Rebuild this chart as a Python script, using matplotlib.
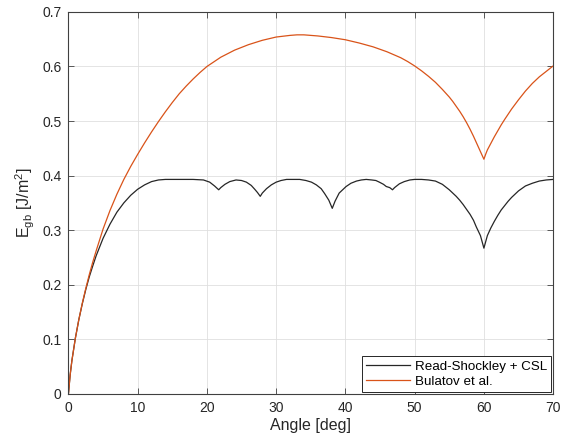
import matplotlib
matplotlib.use("Agg")
import matplotlib.pyplot as plt

plt.rcParams['font.family'] = ['Liberation Sans', 'DejaVu Sans']
plt.rcParams['mathtext.default'] = 'regular'

# Read-Shockley + CSL (black)
rs_angle = [0, 0.25, 0.5, 1, 1.5, 2, 2.5, 3, 3.5, 4, 5, 6, 7, 8, 9, 10, 11, 12, 13, 14, 16, 18, 19.5,
            20.4, 21.1, 21.7, 22.0, 22.6, 23.3, 24.2, 25.0, 25.7, 26.4, 26.9, 27.3, 27.7,
            28.0, 28.6, 29.3, 30.0, 30.7, 31.5, 32.5, 33.4, 34.3, 35.1, 35.8, 36.5, 37.0,
            37.6, 38.1, 38.5, 39.1, 40.1, 40.8, 41.6, 42.3, 43.0, 43.8, 44.4, 44.9, 45.5,
            45.9, 46.4, 46.8, 47.1, 47.8, 48.5, 49.3, 50, 51, 52, 53, 53.5, 54, 54.5, 55,
            55.5, 56, 56.5, 57, 57.5, 58, 58.5, 58.9, 59.5, 60, 60.5, 61, 61.5, 62, 62.5,
            63, 63.5, 64, 65, 66, 67, 68, 69, 70]
rs_energy = [0, 0.035, 0.061, 0.102, 0.136, 0.165, 0.191, 0.214, 0.234, 0.253, 0.285, 0.311,
             0.333, 0.350, 0.364, 0.375, 0.383, 0.389, 0.392, 0.393, 0.393, 0.393, 0.392,
             0.388, 0.381, 0.374, 0.378, 0.384, 0.389, 0.392, 0.391, 0.388, 0.382, 0.375,
             0.369, 0.362, 0.368, 0.376, 0.383, 0.388, 0.391, 0.393, 0.393, 0.393, 0.391,
             0.388, 0.383, 0.376, 0.367, 0.355, 0.340, 0.353, 0.368, 0.380, 0.386, 0.390,
             0.392, 0.393, 0.392, 0.391, 0.388, 0.384, 0.380, 0.378, 0.374, 0.378, 0.385,
             0.389, 0.392, 0.393, 0.393, 0.392, 0.390, 0.387, 0.384, 0.379, 0.374,
             0.368, 0.362, 0.355, 0.347, 0.338, 0.329, 0.318, 0.306, 0.290, 0.267, 0.290,
             0.304, 0.316, 0.327, 0.337, 0.345, 0.353, 0.360, 0.372, 0.381, 0.386,
             0.390, 0.392, 0.393]

# Bulatov et al. (orange)
bu_angle = [0, 0.25, 0.5, 1, 1.5, 2, 2.5, 3, 3.5, 4, 5, 6, 7, 8, 9, 10, 11, 12, 13, 14, 15,
            16, 17, 18, 19, 20, 22, 24, 26, 28, 30, 32, 33, 34, 36, 38, 40, 42, 44, 46, 48,
            49, 50, 51, 52, 53, 54, 55, 55.5, 56, 56.5, 57, 57.5, 58, 58.5, 59, 59.5, 60,
            60.25, 60.5, 61, 61.5, 62, 62.5, 63, 64, 65, 66, 67, 68, 69, 70]
bu_energy = [0, 0.035, 0.061, 0.102, 0.136, 0.166, 0.193, 0.218, 0.241, 0.262, 0.302, 0.336,
             0.366, 0.393, 0.417, 0.439, 0.460, 0.480, 0.499, 0.517, 0.534,
             0.550, 0.564, 0.577, 0.589, 0.600, 0.617, 0.630, 0.640, 0.648, 0.654, 0.657,
             0.658, 0.658, 0.656, 0.653, 0.649, 0.643, 0.636, 0.627, 0.616,
             0.609, 0.601, 0.592, 0.582, 0.571, 0.558, 0.544, 0.536, 0.527, 0.518, 0.508,
             0.497, 0.485, 0.472, 0.458, 0.444, 0.430,
             0.439, 0.447, 0.459, 0.471, 0.482, 0.493, 0.503, 0.522, 0.539, 0.555, 0.569,
             0.581, 0.591, 0.601]

x_ticks = [0, 10, 20, 30, 40, 50, 60, 70]
y_ticks = [0, 0.1, 0.2, 0.3, 0.4, 0.5, 0.6, 0.7]
y_tick_labels = ['0', '0.1', '0.2', '0.3', '0.4', '0.5', '0.6', '0.7']

fig = plt.figure(figsize=(5.61, 4.42), dpi=100)
ax = fig.add_axes([0.122, 0.109, 0.864, 0.864])

ax.plot(rs_angle, rs_energy, color='#262626', lw=0.9, label='Read-Shockley + CSL')
ax.plot(bu_angle, bu_energy, color='#D95319', lw=0.9, label='Bulatov et al.')

ax.set_xlim(0, 70)
ax.set_ylim(0, 0.7)
ax.set_xticks(x_ticks)
ax.set_yticks(y_ticks)
ax.set_yticklabels(y_tick_labels)
ax.grid(True, color='#dfdfdf', lw=0.6)
ax.set_axisbelow(True)
for s in ax.spines.values():
    s.set_color('#404040')
    s.set_linewidth(0.8)
ax.tick_params(direction='in', length=4, width=0.6, colors='#404040',
               labelcolor='#262626', labelsize=10, top=True, right=True, pad=5)
ax.set_xlabel('Angle [deg]', fontsize=11.5, color='#262626', labelpad=2)
ax.set_ylabel(r'E$_{gb}$ [J/m$^2$]', fontsize=11.5, color='#262626', labelpad=4)

leg = ax.legend(loc='lower right', fontsize=9.6, fancybox=False, framealpha=1,
                edgecolor='#262626', borderaxespad=0.15, handlelength=3.3,
                handletextpad=0.4, borderpad=0.3, labelspacing=0.2)
leg.get_frame().set_linewidth(0.7)

fig.savefig('out.png', dpi=100, facecolor='white')
